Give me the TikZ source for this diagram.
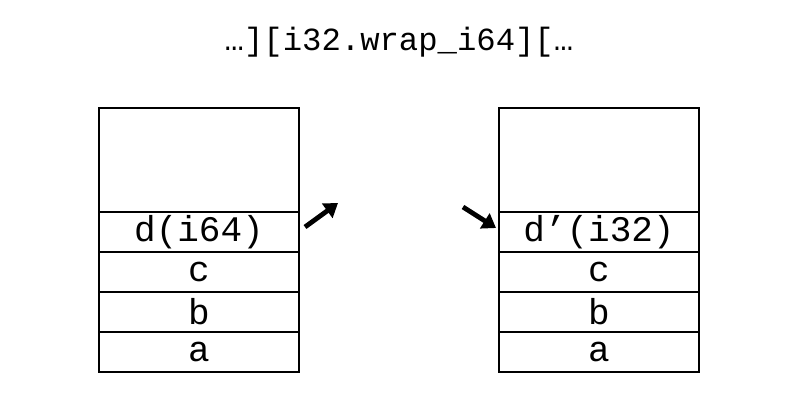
\documentclass[tikz,border=0pt]{standalone}
\usepackage{fontspec}
\setmonofont{Liberation Mono}
\usepackage{tikz}
\usetikzlibrary{arrows.meta,calc,positioning}
\tikzset{
  celda/.style={
    draw=black,
    line width=1.3pt,
    minimum width=150pt,
    minimum height=30pt,
    inner sep=0pt,
    outer sep=0pt,
    font=\ttfamily\fontsize{27}{29}\selectfont
  },
  vacia/.style={
    celda,
    minimum height=78pt
  },
  titulo/.style={
    font=\ttfamily\fontsize{24.2}{27}\selectfont
  },
  flecha/.style={
    -{Triangle[length=10pt,width=13pt]},
    line width=3.6pt,
    black
  }
}

\begin{document}
\begin{tikzpicture}[x=0.75pt,y=-0.75pt,node distance=0pt]
\useasboundingbox (0,0) rectangle (798,400);
\node[titulo] (title) at (399,42) {…][i32.wrap\_i64][…};
% pila de entrada
\node[vacia] (topL) at (199,160) {};
\node[celda, below=of topL] (dL) {d(i64)};
\node[celda, below=of dL] (cL) {c};
\node[celda, below=of cL] (bL) {b};
\node[celda, below=of bL] (aL) {a};
% pila de salida
\node[vacia] (topR) at (599,160) {};
\node[celda, below=of topR] (dR) {d’(i32)};
\node[celda, below=of dR] (cR) {c};
\node[celda, below=of cR] (bR) {b};
\node[celda, below=of bR] (aR) {a};
% flechas
\coordinate (outL) at (305,227);
\coordinate (outT) at (338,203);
\coordinate (inS) at (463,207);
\coordinate (inR) at (496,228);
\draw[flecha] (outL) -- (outT);
\draw[flecha] (inS) -- (inR);
\end{tikzpicture}
\end{document}
